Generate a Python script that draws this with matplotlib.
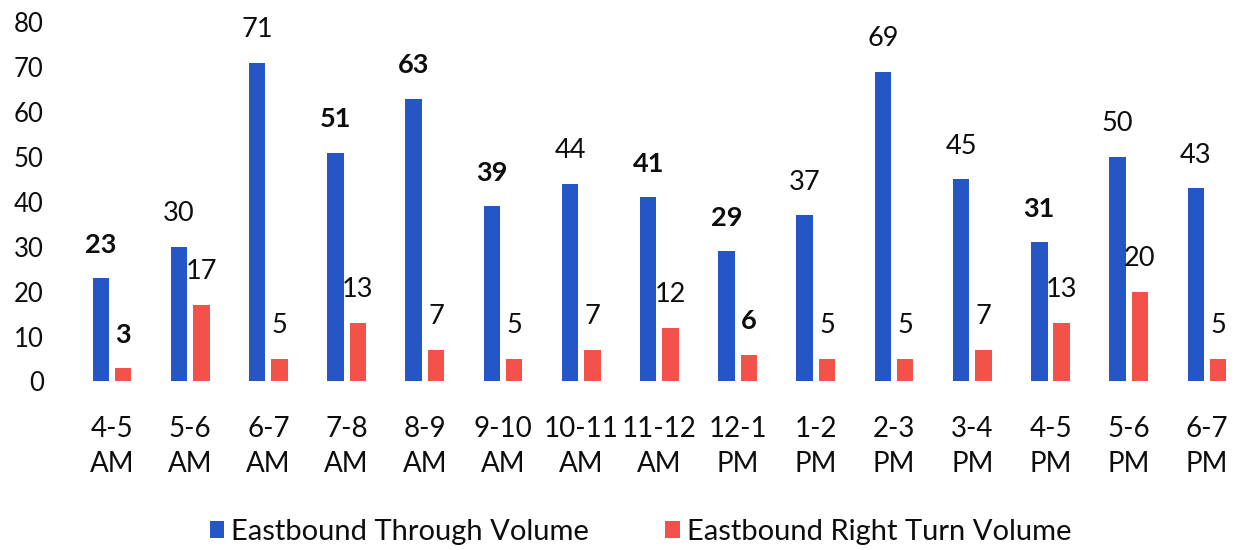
import numpy as np
import matplotlib.pyplot as plt

plt.rcParams['font.family'] = ['Lato', 'DejaVu Sans']

hours = ['4-5\nAM', '5-6\nAM', '6-7\nAM', '7-8\nAM', '8-9\nAM', '9-10\nAM', '10-11\nAM',
         '11-12\nAM', '12-1\nPM', '1-2\nPM', '2-3\nPM', '3-4\nPM', '4-5\nPM', '5-6\nPM', '6-7\nPM']
through = [23, 30, 71, 51, 63, 39, 44, 41, 29, 37, 69, 45, 31, 50, 43]
right_turn = [3, 17, 5, 13, 7, 5, 7, 12, 6, 5, 5, 7, 13, 20, 5]
# labels that print heavier
bold_through = [23, 51, 63, 39, 41, 29, 31]
bold_right = [3, 6]

blue = '#2457c5'
red = '#f2524a'
ink = '#0d0d0d'

fig = plt.figure(figsize=(12.39, 5.5), dpi=100)
ax = fig.add_axes([0.0588, 0.3064, 0.9412, 0.653])

x = np.arange(len(hours))
w = 0.21
off = 0.143
b1 = ax.bar(x - off, through, w, color=blue, label='Eastbound Through Volume')
b2 = ax.bar(x + off, right_turn, w, color=red, label='Eastbound Right Turn Volume')

for xi, v in zip(x, through):
    ax.annotate(str(v), (xi - off, v), xytext=(0, 24), textcoords='offset points',
                ha='center', va='center', fontsize=19.5, color=ink,
                fontweight='bold' if v in bold_through else 'normal')
for xi, v in zip(x, right_turn):
    ax.annotate(str(v), (xi + off, v), xytext=(0, 24), textcoords='offset points',
                ha='center', va='center', fontsize=19.5, color=ink,
                fontweight='bold' if v in bold_right else 'normal')

ax.set_xlim(-0.5, 14.41)
ax.set_ylim(0, 80)
ax.set_yticks(range(0, 81, 10))
ax.set_xticks(x)
ax.set_xticklabels(hours, linespacing=1.4)
ax.tick_params(axis='y', length=0, pad=21, labelsize=18.5, labelcolor=ink)
ax.tick_params(axis='x', length=0, pad=25, labelsize=20, labelcolor=ink)
for s in ax.spines.values():
    s.set_visible(False)

fig.legend(handles=[b1, b2], loc='center', bbox_to_anchor=(0.517, 0.033), ncol=2,
           frameon=False, fontsize=21, handlelength=0.5, handleheight=0.5,
           handletextpad=0.25, columnspacing=2.6, labelcolor=ink)

fig.savefig('out.png', dpi=100)
